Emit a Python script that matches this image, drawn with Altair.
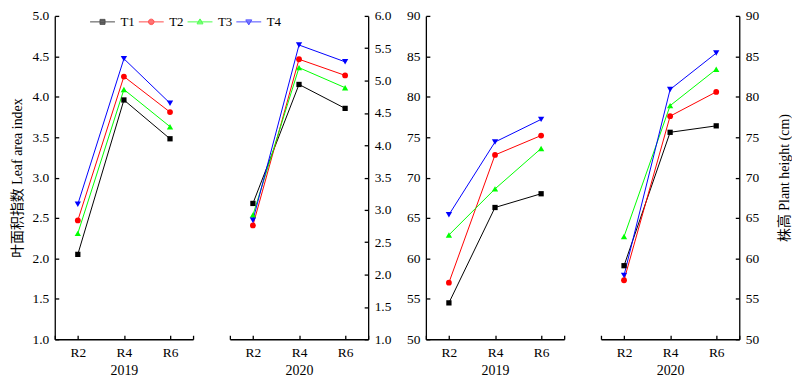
import altair as alt
import pandas as pd

# ---------------- data ----------------
stages = ["R2", "R4", "R6"]
series = ["T1", "T2", "T3", "T4"]
colors = ["#000000", "#FF0000", "#00FF00", "#0000FF"]

lai_2019 = {
    "T1": [2.05, 3.96, 3.48],
    "T2": [2.47, 4.25, 3.81],
    "T3": [2.31, 4.09, 3.63],
    "T4": [2.67, 4.47, 3.92],
}
lai_2020 = {
    "T1": [3.10, 4.94, 4.57],
    "T2": [2.76, 5.33, 5.08],
    "T3": [2.92, 5.20, 4.89],
    "T4": [2.84, 5.55, 5.29],
}
height_2019 = {
    "T1": [54.5, 66.3, 68.0],
    "T2": [57.0, 72.8, 75.2],
    "T3": [62.9, 68.6, 73.6],
    "T4": [65.4, 74.4, 77.2],
}
height_2020 = {
    "T1": [59.1, 75.6, 76.4],
    "T2": [57.3, 77.6, 80.6],
    "T3": [62.7, 78.9, 83.4],
    "T4": [57.9, 80.9, 85.4],
}

lai_left_ticks = [1.0, 1.5, 2.0, 2.5, 3.0, 3.5, 4.0, 4.5, 5.0]
lai_right_ticks = [1.0, 1.5, 2.0, 2.5, 3.0, 3.5, 4.0, 4.5, 5.0, 5.5, 6.0]
height_ticks = [50, 55, 60, 65, 70, 75, 80, 85, 90]
x_ticks = [-0.5, 0, 1, 2, 2.5]

# ---------------- styling ----------------
FONT = "Liberation Serif, Noto Sans CJK SC, serif"
PW, PH = 139, 325
INWARD = {"expr": "-4"}

marker_shapes = {"T1": "square", "T2": "circle", "T3": "triangle-up", "T4": "triangle-down"}
marker_sizes = {"T1": 28, "T2": 34, "T3": 40, "T4": 40}
series_color = dict(zip(series, colors))

# legend symbols: a line with a (stroke-filled) marker in the middle
legend_paths = [
    "M-1,0H1M-0.2,-0.2H0.2V0.2H-0.2ZM-0.2,-0.12H0.2M-0.2,-0.06H0.2M-0.2,0.06H0.2M-0.2,0.12H0.2",
    "M-1,0H1M-0.22,0A0.22,0.22 0 1,0 0.22,0A0.22,0.22 0 1,0 -0.22,0"
    "M-0.2,-0.08H0.2M-0.2,0.08H0.2M-0.15,-0.15H0.15M-0.15,0.15H0.15",
    "M-1,0H1M0,-0.24L0.24,0.16H-0.24ZM-0.05,-0.16H0.05M-0.1,-0.08H0.1M-0.19,0.08H0.19",
    "M-1,0H1M0,0.24L0.24,-0.16H-0.24ZM-0.05,0.16H0.05M-0.1,0.08H0.1M-0.19,-0.08H0.19",
]


def make_df(d):
    rows = []
    for s in series:
        for i, st in enumerate(stages):
            rows.append({"series": s, "stage": st, "idx": i, "value": d[s][i]})
    return pd.DataFrame(rows)


label_expr = " : ".join(
    [f"datum.value == {i} ? '{st}'" for i, st in enumerate(stages)]
) + " : ''"


def panel(d, year, ydomain, yticks, orient, ytitle, fmt, with_legend=False):
    df = make_df(d)
    yaxis_kwargs = dict(
        values=yticks, format=fmt, orient=orient, grid=False,
        tickSize=INWARD, labelPadding=10, labelOverlap=False, labelFlush=False,
        labelFontSize=13.5,
    )
    if ytitle is None:
        yaxis_kwargs["title"] = None
    else:
        yaxis_kwargs["title"] = ytitle
        if orient == "right":
            yaxis_kwargs["titleAngle"] = 270
            yaxis_kwargs["titleBaseline"] = "top"
            yaxis_kwargs["titlePadding"] = 19
        else:
            yaxis_kwargs["titlePadding"] = 8
    x = alt.X(
        "idx:Q",
        scale=alt.Scale(domain=[-0.5, 2.5], nice=False, zero=False),
        axis=alt.Axis(
            values=x_ticks, labelExpr=label_expr, title=year, grid=False,
            tickSize=INWARD, labelPadding=10, titlePadding=5,
            labelOverlap=False, labelFlush=False, labelFontSize=13.5,
        ),
    )
    y = alt.Y(
        "value:Q",
        scale=alt.Scale(domain=ydomain, nice=False, zero=False),
        axis=alt.Axis(**yaxis_kwargs),
    )
    base = alt.Chart(df).encode(x=x, y=y)
    layers = []
    if with_legend:
        leg = dict(
            title=None, orient="none", legendX=35, legendY=-7,
            direction="horizontal", columns=4, symbolSize=625,
            symbolStrokeWidth=1, labelFont=FONT, labelFontSize=13,
            labelOffset=5, columnPadding=1, labelColor="black", padding=0,
        )
        layers.append(
            base.mark_point(filled=False, strokeWidth=1).encode(
                color=alt.Color(
                    "series:N",
                    scale=alt.Scale(domain=series, range=colors),
                    legend=alt.Legend(**leg),
                ),
                shape=alt.Shape(
                    "series:N",
                    scale=alt.Scale(domain=series, range=legend_paths),
                    legend=alt.Legend(**leg),
                ),
            ).transform_filter("false")
        )
    for s in series:
        sub = base.transform_filter(alt.datum.series == s)
        layers.append(sub.mark_line(strokeWidth=1, color=series_color[s]))
    for s in series:
        sub = base.transform_filter(alt.datum.series == s)
        layers.append(
            sub.mark_point(
                shape=marker_shapes[s], filled=True, size=marker_sizes[s],
                opacity=1, color=series_color[s],
            )
        )
    return alt.layer(*layers).properties(width=PW, height=PH)


p1 = panel(lai_2019, "2019", [1, 5], lai_left_ticks, "left", "叶面积指数 Leaf area index", ".1f", with_legend=True)
p2 = panel(lai_2020, "2020", [1, 6], lai_right_ticks, "right", None, ".1f")
p3 = panel(height_2019, "2019", [50, 90], height_ticks, "left", None, "d")
p4 = panel(height_2020, "2020", [50, 90], height_ticks, "right", "株高 Plant height (cm)", "d")

chart = alt.hconcat(
    alt.hconcat(p1, p2, spacing=35),
    alt.hconcat(p3, p4, spacing=35),
    spacing=15,
).properties(
    padding={"left": 2, "top": 0, "right": 0, "bottom": 0}
).configure_view(
    stroke=None
).configure_axis(
    domainColor="black", tickColor="black", labelColor="black", titleColor="black",
    domainWidth=1.3, tickWidth=1.3, labelFont=FONT, titleFont=FONT,
    titleFontSize=14, titleFontWeight="normal",
)

chart.save("out.html", embed_options={"renderer": "svg", "actions": False})
